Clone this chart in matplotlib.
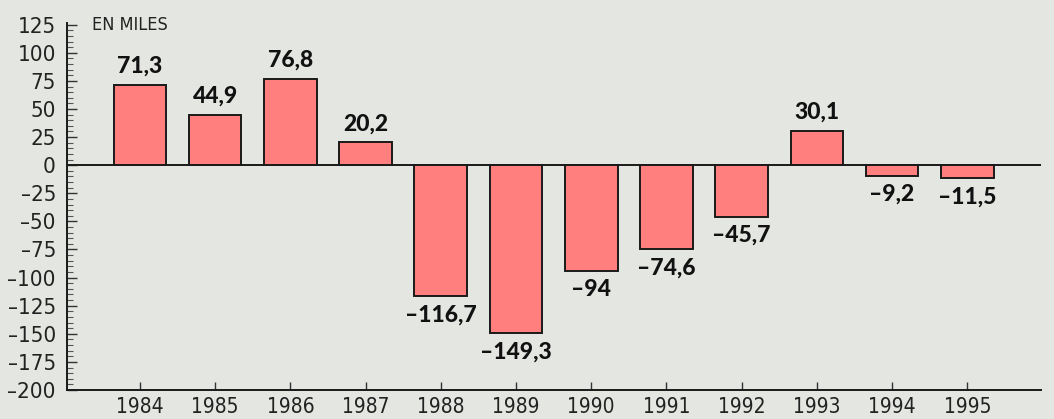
import matplotlib
matplotlib.use("Agg")
import matplotlib.pyplot as plt
from matplotlib.ticker import MultipleLocator
from matplotlib import font_manager

years = ["1984", "1985", "1986", "1987", "1988", "1989", "1990", "1991", "1992", "1993", "1994", "1995"]
values = [71.3, 44.9, 76.8, 20.2, -116.7, -149.3, -94, -74.6, -45.7, 30.1, -9.2, -11.5]
value_labels = ["71,3", "44,9", "76,8", "20,2", "–116,7", "–149,3", "–94", "–74,6", "–45,7", "30,1", "–9,2", "–11,5"]
unit_label = "EN MILES"

bg = "#e4e6e2"
bar_color = "#ff7f7f"

names = {f.name for f in font_manager.fontManager.ttflist}
cond = [f for f in font_manager.fontManager.ttflist if f.name == "DejaVu Sans" and f.stretch == "condensed"]
if "Liberation Sans Narrow" in names:
    axis_font = ["Liberation Sans Narrow"]
    stretch = "normal"
elif cond:
    axis_font = ["DejaVu Sans"]
    stretch = "condensed"
else:
    axis_font = ["DejaVu Sans"]
    stretch = "normal"
value_font = ["Lato", "DejaVu Sans"]

fig = plt.figure(figsize=(10.54, 4.19), dpi=100, facecolor=bg)
ax = fig.add_axes([67 / 1054, 1 - 390 / 419, (1041 - 67) / 1054, (390 - 23) / 419])
ax.set_facecolor(bg)

x = list(range(len(years)))
ax.bar(x, values, width=0.7, color=bar_color, edgecolor="#1a1a1a", linewidth=1.4, zorder=3)
ax.axhline(0, color="#1a1a1a", linewidth=1.4, zorder=2)

ax.set_xlim(-0.97, 11.98)
ax.set_ylim(-200, 126.5)

for xi, v, lab in zip(x, values, value_labels):
    off = 6 if v >= 0 else -6
    ax.annotate(lab, (xi, v), xytext=(0, off), textcoords="offset points",
                ha="center", va="bottom" if v >= 0 else "top",
                fontsize=16.5, fontweight="black", family=value_font, color="#111111", zorder=4)

ax.text(-0.64, 125, unit_label, ha="left", va="center", fontsize=13,
        family=axis_font, fontstretch=stretch, color="#222222")

ax.set_xticks(x)
ax.set_xticklabels(years, family=axis_font, fontstretch=stretch, fontsize=15, color="#222222")
ax.yaxis.set_minor_locator(MultipleLocator(5))
ax.set_yticks(range(-200, 126, 25))
ax.set_yticklabels([str(t).replace("-", "–") for t in range(-200, 126, 25)],
                   family=axis_font, fontstretch=stretch, fontsize=16, color="#222222")

ax.tick_params(axis="y", which="major", direction="in", length=7, width=1.0, pad=8, color="#333333")
ax.tick_params(axis="y", which="minor", direction="in", length=4, width=0.8, color="#555555")
ax.tick_params(axis="x", which="major", direction="in", length=6, width=1.0, pad=5, color="#333333")

for s in ["top", "right"]:
    ax.spines[s].set_visible(False)
for s in ["left", "bottom"]:
    ax.spines[s].set_linewidth(1.4)
    ax.spines[s].set_color("#1a1a1a")

fig.savefig("out.png", dpi=100, facecolor=bg)
